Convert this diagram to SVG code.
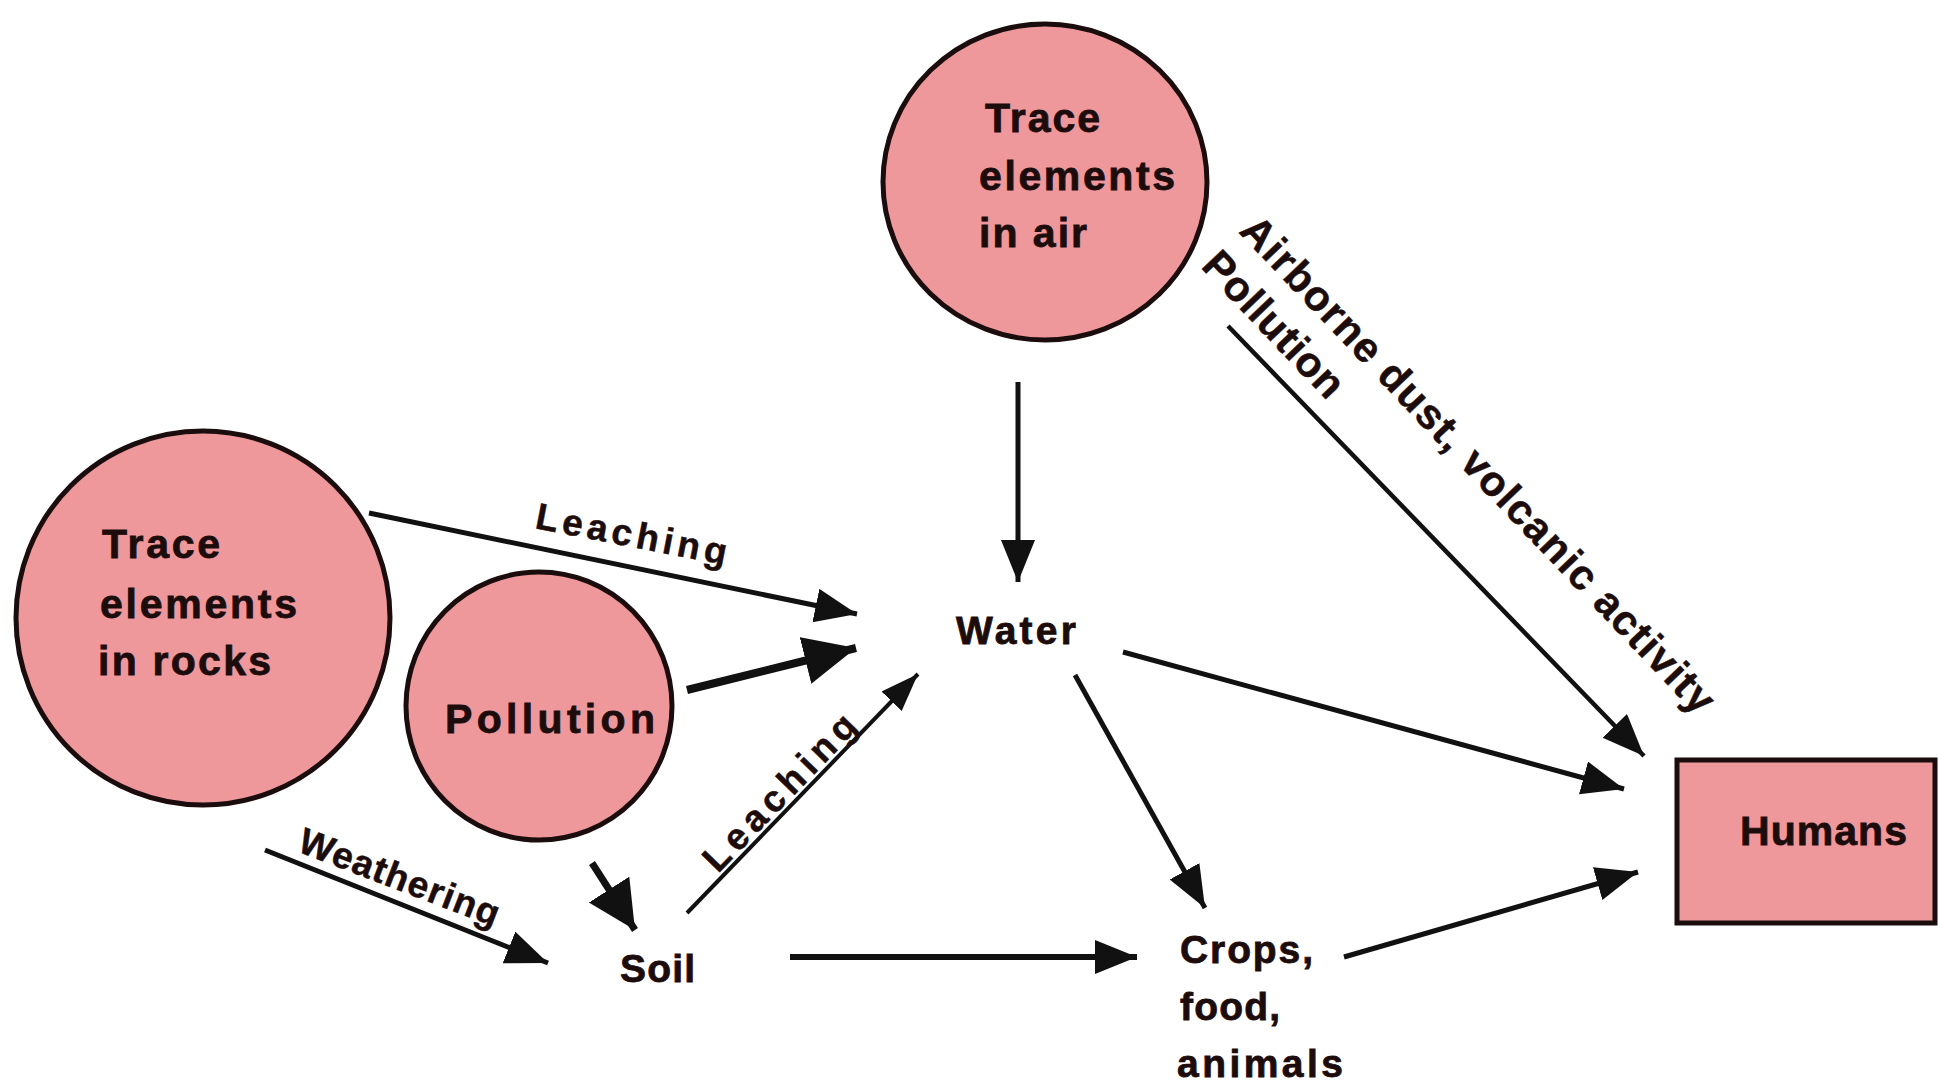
<svg xmlns="http://www.w3.org/2000/svg" width="1939" height="1082" viewBox="0 0 1939 1082">
<style>
.node{fill:#EF989C;stroke:#1b0d0d;stroke-width:5}
.lbl{font-family:"Liberation Sans",Arial,sans-serif;font-weight:bold;fill:#1c0c0c}
.hv{stroke:#1c0c0c;stroke-width:0.8}
.hl{stroke:#1c0c0c;stroke-width:0.5}
.n38{font-size:41px}
.n36{font-size:39px}
.e{font-size:37px}
.r{font-size:42px}
.c{stroke:#111;stroke-width:5;fill:none}
</style>
<defs>
<marker id="ah" markerUnits="userSpaceOnUse" markerWidth="44" markerHeight="36" refX="42" refY="17" orient="auto"><path d="M0,0 L42,17 L0,34 z" fill="#111"/></marker>
<marker id="ahBig" markerUnits="userSpaceOnUse" markerWidth="54" markerHeight="50" refX="52" refY="24" orient="auto"><path d="M0,0 L52,24 L0,48 z" fill="#111"/></marker>
<marker id="ahMid" markerUnits="userSpaceOnUse" markerWidth="50" markerHeight="50" refX="48" refY="24" orient="auto"><path d="M0,0 L48,24 L0,48 z" fill="#111"/></marker>
<marker id="ahSm" markerUnits="userSpaceOnUse" markerWidth="40" markerHeight="30" refX="38" refY="14" orient="auto"><path d="M0,0 L38,14 L0,28 z" fill="#111"/></marker>
</defs>
<rect width="1939" height="1082" fill="#fff"/>
<g id="connectors">
<line class="c" x1="369" y1="513" x2="857" y2="614" marker-end="url(#ah)"/>
<line class="c" x1="687" y1="690" x2="856" y2="648" style="stroke-width:8" marker-end="url(#ahBig)"/>
<line class="c" x1="687" y1="913" x2="918" y2="674" style="stroke-width:4" marker-end="url(#ahSm)"/>
<line class="c" x1="1018" y1="382" x2="1018" y2="582" marker-end="url(#ah)"/>
<line class="c" x1="1075" y1="675" x2="1205" y2="908" marker-end="url(#ah)"/>
<line class="c" x1="1123" y1="652" x2="1624" y2="789" marker-end="url(#ah)"/>
<line class="c" x1="1228" y1="326" x2="1644" y2="756" style="stroke-width:4.5" marker-end="url(#ah)"/>
<line class="c" x1="265" y1="850" x2="548" y2="963" marker-end="url(#ah)"/>
<line class="c" x1="592" y1="863" x2="635" y2="930" style="stroke-width:7" marker-end="url(#ahMid)"/>
<line class="c" x1="790" y1="957" x2="1137" y2="957" style="stroke-width:6" marker-end="url(#ah)"/>
<line class="c" x1="1344" y1="957" x2="1638" y2="872" marker-end="url(#ah)"/>
<text class="lbl hl e" transform="translate(534,528) rotate(11)" textLength="194" lengthAdjust="spacing">Leaching</text>
<text class="lbl hl e" transform="translate(296,851) rotate(21)" textLength="212" lengthAdjust="spacing">Weathering</text>
<text class="lbl hl e" transform="translate(718,874) rotate(-46)" textLength="203" lengthAdjust="spacing">Leaching</text>
<text class="lbl hl r" transform="translate(1238,232) rotate(46.5)" textLength="668" lengthAdjust="spacing">Airborne dust, volcanic activity</text>
<text class="lbl hl r" transform="translate(1200,267) rotate(46.5)" textLength="185" lengthAdjust="spacing">Pollution</text>
</g>
<g id="air">
<ellipse class="node" cx="1045" cy="182" rx="162" ry="158"/>
<text class="lbl hv n38" x="985" y="132" textLength="115" lengthAdjust="spacing">Trace</text>
<text class="lbl hv n38" x="979" y="190" textLength="196" lengthAdjust="spacing">elements</text>
<text class="lbl hv n38" x="979" y="247" textLength="108" lengthAdjust="spacing">in air</text>
</g>
<g id="rocks">
<ellipse class="node" cx="203" cy="618" rx="187" ry="187"/>
<text class="lbl hv n38" x="102" y="558" textLength="118" lengthAdjust="spacing">Trace</text>
<text class="lbl hv n38" x="100" y="618" textLength="197" lengthAdjust="spacing">elements</text>
<text class="lbl hv n38" x="98" y="675" textLength="173" lengthAdjust="spacing">in rocks</text>
</g>
<g id="pollution">
<ellipse class="node" cx="539" cy="706" rx="133" ry="134"/>
<text class="lbl hv n38" x="445" y="733" textLength="210" lengthAdjust="spacing">Pollution</text>
</g>
<g id="water">
<text class="lbl hv n36" x="956" y="644" textLength="120" lengthAdjust="spacing">Water</text>
</g>
<g id="soil">
<text class="lbl hv n36" x="620" y="982" textLength="75" lengthAdjust="spacing">Soil</text>
</g>
<g id="crops">
<text class="lbl hv n36" x="1180" y="963" textLength="133" lengthAdjust="spacing">Crops,</text>
<text class="lbl hv n36" x="1180" y="1020" textLength="100" lengthAdjust="spacing">food,</text>
<text class="lbl hv n36" x="1177" y="1077" textLength="166" lengthAdjust="spacing">animals</text>
</g>
<g id="humans">
<rect class="node" x="1677" y="760" width="258" height="163"/>
<text class="lbl hv n38" x="1740" y="845" textLength="167" lengthAdjust="spacing">Humans</text>
</g>
</svg>
